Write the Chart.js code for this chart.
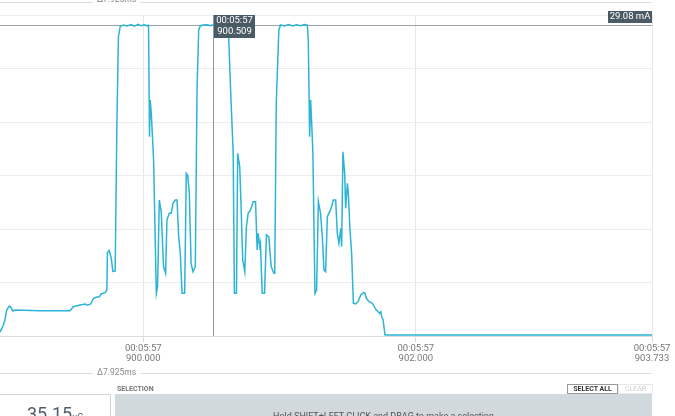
<!DOCTYPE html>
<html>
<head>
<meta charset="UTF-8">
<title>Current trace</title>
<script src="https://cdn.jsdelivr.net/npm/chart.js"></script>
<style>
    html, body {
        margin: 0;
        padding: 0;
        background: #fff;
        font-family: Roboto, Arial, sans-serif;
        overflow: hidden;
    }
    #page {
        position: relative;
        width: 675px;
        height: 416px;
        overflow: hidden;
    }
    #chart-box {
        position: absolute;
        left: 0;
        top: 0;
        width: 675px;
        height: 376px;
    }
    .delta {
        position: absolute;
        left: 0;
        width: 652px;
        height: 1px;
        background: #d9e0e3;
    }
    .delta span {
        position: absolute;
        left: 93px;
        top: -6px;
        padding: 0 4px;
        background: #fff;
        font-size: 8.5px;
        line-height: 11px;
        color: #888;
    }
    #sel-label {
        position: absolute;
        left: 117px;
        top: 385px;
        font-size: 7px;
        font-weight: bold;
        color: #777;
    }
    #charge {
        position: absolute;
        left: -1px;
        top: 394px;
        width: 110px;
        height: 30px;
        border: 1px solid #cfd6da;
        background: #fff;
        text-align: center;
        color: #4e5f6b;
    }
    #charge b {
        font-weight: normal;
        font-size: 18px;
        position: relative;
        top: 8px;
    }
    #charge small {
        font-size: 9px;
        position: relative;
        top: 8px;
    }
    #selection {
        position: absolute;
        left: 115px;
        top: 394px;
        width: 537px;
        height: 30px;
        background: #d1d9dd;
        text-align: center;
        font-size: 9px;
        color: #555;
    }
    #selection div {
        padding-top: 17px;
    }
    .btn {
        position: absolute;
        top: 384px;
        height: 8px;
        font-size: 7px;
        line-height: 8px;
        text-align: center;
        font-weight: bold;
    }
</style>
</head>
<body>
<div id="page">
    <div id="chart-box"><canvas id="currentChart"></canvas></div>

    <div class="delta" style="top:2px"><span style="top:-8px">Δ7.925ms</span></div>
    <div class="delta" style="top:373px"><span>Δ7.925ms</span></div>

    <div id="sel-label">SELECTION</div>
    <div id="charge"><b>35.15</b><small>uC</small></div>
    <div id="selection"><div>Hold SHIFT+LEFT CLICK and DRAG to make a selection</div></div>
    <div class="btn" style="left:567px;width:49px;border:1px solid #9a9a9a;color:#333">SELECT ALL</div>
    <div class="btn" style="left:618px;width:33px;border:1px solid #e8e8e8;color:#ccc;font-weight:normal">CLEAR</div>
</div>

<script>
    // время (с) и ток (мА)
    const times = [
        898.949, 898.971, 898.985, 898.998, 899.017, 899.029, 899.042, 899.059, 899.243, 899.463,
        899.487, 899.537, 899.574, 899.590, 899.615, 899.635, 899.660, 899.679, 899.691, 899.721,
        899.733, 899.737, 899.750, 899.765, 899.777, 899.794, 899.807, 899.818, 899.831, 899.855,
        899.882, 899.912, 899.934, 899.963, 899.985, 900.007, 900.026, 900.035,
        900.039, 900.046, 900.051, 900.059, 900.076, 900.096, 900.105, 900.118, 900.132, 900.149,
        900.164, 900.174, 900.191, 900.206, 900.218, 900.235, 900.248, 900.260, 900.272, 900.285,
        900.304, 900.316, 900.326, 900.338, 900.351, 900.365, 900.382, 900.395, 900.407, 900.419,
        900.441, 900.471, 900.493, 900.507, 900.537, 900.566, 900.596, 900.620,
        900.627, 900.640, 900.660, 900.669, 900.684, 900.693, 900.708, 900.718, 900.730, 900.745,
        900.757, 900.770, 900.787, 900.807, 900.824, 900.836, 900.843, 900.855, 900.860, 900.873,
        900.890, 900.904, 900.921, 900.939, 900.958, 900.965, 900.976, 900.995, 901.007,
        901.037, 901.066, 901.096, 901.125, 901.154, 901.184, 901.204,
        901.211, 901.221, 901.228, 901.235, 901.245, 901.260, 901.272, 901.285, 901.301, 901.314,
        901.326, 901.338, 901.351, 901.368, 901.382, 901.395, 901.412, 901.424, 901.436, 901.449,
        901.456, 901.465, 901.478, 901.485, 901.498, 901.505, 901.517, 901.529, 901.542, 901.559,
        901.576, 901.596, 901.615, 901.625, 901.637, 901.657, 901.682, 901.706, 901.723, 901.735,
        901.743, 901.748, 901.760, 901.774, 902.257, 902.993, 903.733
    ];
    const currents = [
        0.37, 0.93, 1.50, 2.43, 2.80, 2.68, 2.34, 2.43, 2.36, 2.36,
        2.74, 2.90, 2.99, 2.87, 2.99, 3.52, 3.64, 3.67, 3.93, 4.05,
        4.30, 7.80, 7.99, 7.29, 6.03, 6.07, 20.19, 27.97, 28.91, 29.07,
        28.98, 29.10, 28.96, 29.12, 28.99, 29.09, 28.99, 29.05,
        28.91, 18.63, 22.06, 20.84, 16.45, 3.99, 4.61, 12.71, 11.62, 6.48,
        5.86, 10.84, 11.47, 11.47, 12.40, 12.71, 12.71, 9.28, 7.73, 3.99,
        3.99, 15.21, 15.05, 13.34, 6.79, 6.01, 6.48, 23.30, 28.60, 29.00,
        29.06, 29.09, 28.99, 29.07, 29.02, 29.10, 28.99, 28.97,
        27.97, 23.30, 17.10, 3.99, 3.99, 17.07, 15.82, 12.08, 7.10, 6.01,
        10.21, 11.47, 11.78, 12.55, 12.55, 8.04, 9.60, 8.35, 8.66, 3.99,
        3.99, 9.44, 9.28, 6.48, 5.86, 5.86, 21.75, 28.60, 29.07,
        28.98, 29.10, 28.97, 29.08, 28.99, 29.10, 29.05,
        27.66, 18.63, 22.06, 20.19, 17.07, 3.99, 4.30, 12.55, 11.47, 9.28,
        6.17, 6.01, 11.15, 11.62, 12.08, 12.71, 12.71, 9.60, 8.66, 10.07,
        8.35, 17.22, 15.21, 11.93, 14.27, 13.34, 9.91, 7.73, 3.06, 2.99,
        3.21, 3.83, 4.05, 4.05, 3.52, 3.21, 3.06, 2.50, 2.27, 2.12,
        2.27, 1.87, 1.50, 0.09, 0.09, 0.09, 0.09
    ];
    const xTicks = [900.000, 902.000, 903.733];
    const clockLabel = '00:05:57';
    const cursorTime = 900.509;
    const cursorValue = 29.08;

    const points = times.map((t, i) => ({ x: t, y: currents[i] }));

    // курсор: линии и подписи
    const cursorPlugin = {
        id: 'cursor',
        beforeDatasetsDraw(chart) {
            const { ctx, chartArea, scales } = chart;
            const cx = Math.round(scales.x.getPixelForValue(cursorTime)) + 0.5;
            const cy = Math.round(scales.y.getPixelForValue(cursorValue)) + 0.5;
            ctx.save();
            ctx.lineWidth = 1;
            ctx.strokeStyle = '#98a2a8';
            ctx.beginPath();
            ctx.moveTo(chartArea.left, cy);
            ctx.lineTo(chartArea.right, cy);
            ctx.stroke();
            ctx.strokeStyle = '#8c969c';
            ctx.beginPath();
            ctx.moveTo(cx, chartArea.top);
            ctx.lineTo(cx, chartArea.bottom);
            ctx.stroke();
            ctx.restore();
        },
        afterDatasetsDraw(chart) {
            const { ctx, chartArea, scales } = chart;
            const cx = Math.round(scales.x.getPixelForValue(cursorTime));
            ctx.save();
            ctx.fillStyle = '#4b5b65';
            ctx.fillRect(cx + 1, chartArea.top, 41, 23);
            ctx.fillStyle = '#fff';
            ctx.font = '9.5px Roboto';
            ctx.textAlign = 'center';
            ctx.textBaseline = 'middle';
            ctx.fillText(clockLabel, cx + 21.5, chartArea.top + 6);
            ctx.fillText(cursorTime.toFixed(3), cx + 21.5, chartArea.top + 17);

            const txt = cursorValue.toFixed(2) + ' mA';
            ctx.fillStyle = '#4b5b65';
            ctx.fillRect(chartArea.right - 44, chartArea.top - 4, 44, 12);
            ctx.fillStyle = '#fff';
            ctx.fillText(txt, chartArea.right - 22, chartArea.top + 2);
            ctx.restore();
        }
    };

    const ctx = document.getElementById('currentChart').getContext('2d');
    new Chart(ctx, {
        type: 'line',
        data: {
            datasets: [{
                data: points,
                borderColor: '#2bb4d6',
                borderWidth: 1.5,
                pointRadius: 0,
                fill: false,
                tension: 0
            }]
        },
        options: {
            responsive: true,
            maintainAspectRatio: false,
            animation: false,
            layout: {
                padding: { left: 0, right: 23, top: 15, bottom: 0 }
            },
            plugins: {
                legend: { display: false },
                tooltip: { enabled: false }
            },
            scales: {
                x: {
                    type: 'linear',
                    min: times[0],
                    max: times[times.length - 1],
                    afterBuildTicks: (axis) => {
                        axis.ticks = xTicks.map(v => ({ value: v }));
                    },
                    afterFit: (axis) => { axis.height = 40; },
                    grid: {
                        color: '#e4e6e7',
                        tickColor: '#d6d9db',
                        tickLength: 6
                    },
                    border: { color: '#dcdfe1' },
                    ticks: {
                        autoSkip: false,
                        maxRotation: 0,
                        padding: 2,
                        color: '#777',
                        font: { family: 'Roboto', size: 9.5, lineHeight: '10px' },
                        callback: (v) => [clockLabel, Number(v).toFixed(3)]
                    }
                },
                y: {
                    min: 0,
                    max: 30,
                    ticks: { display: false, stepSize: 5 },
                    grid: { color: '#ececec', drawTicks: false },
                    border: { display: false }
                }
            }
        },
        plugins: [cursorPlugin]
    });
</script>
</body>
</html>
